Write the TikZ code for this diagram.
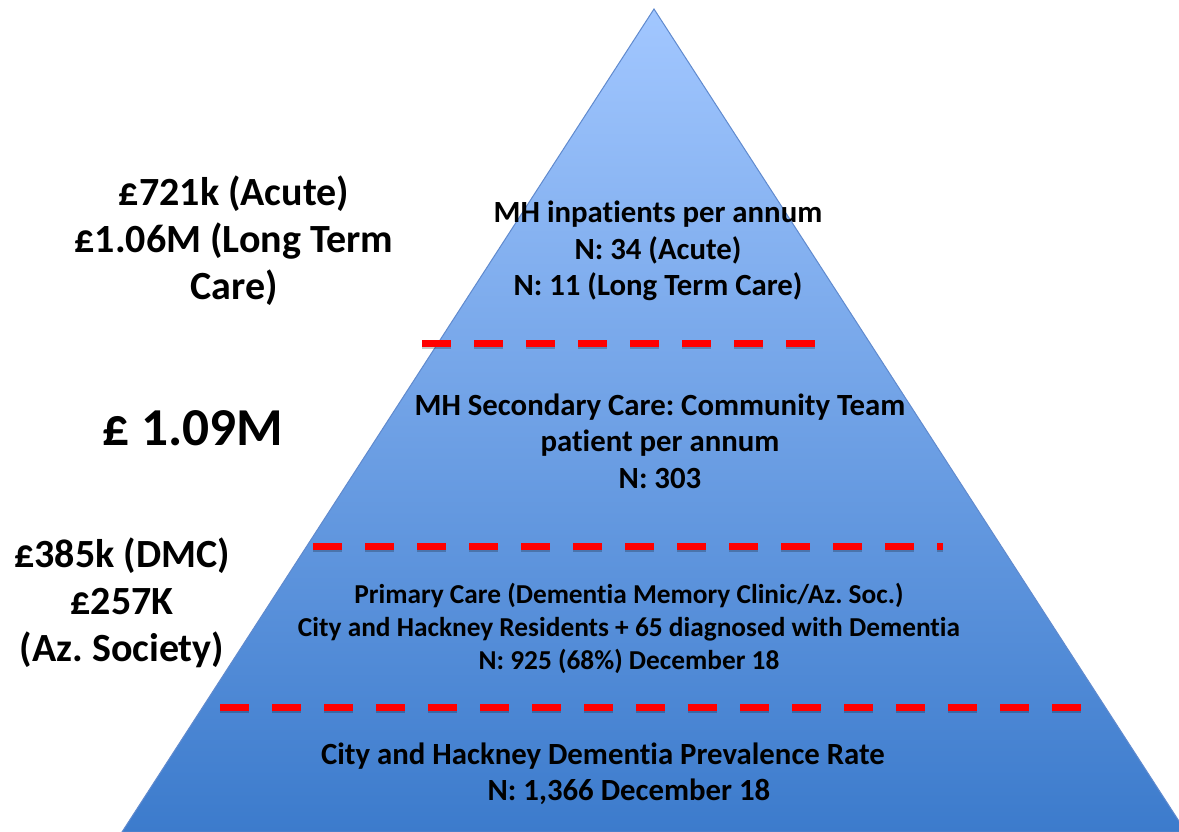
\documentclass[tikz,border=0pt]{standalone}
\usepackage{fontspec}
\setmainfont{Carlito}[Ligatures=NoCommon]
\usetikzlibrary{positioning}
\frenchspacing

\definecolor{pyrtop}{RGB}{162,199,255}
\definecolor{pyrbot}{RGB}{60,123,204}
\definecolor{pyredge}{RGB}{96,138,206}
\definecolor{cutred}{RGB}{255,0,0}

\tikzset{every picture/.style={line width=0.75pt}}
\tikzset{
  costtxt/.style={align=center, inner sep=0pt, font=\fontsize{30}{35.25}\selectfont\bfseries},
  bigcost/.style={inner sep=0pt, font=\fontsize{40}{48}\selectfont\bfseries},
  pyrtxt/.style={align=center, inner sep=0pt, font=\fontsize{23.1}{27.4}\selectfont\bfseries},
  smalltxt/.style={align=center, inner sep=0pt, font=\fontsize{20.5}{24.8}\selectfont\bfseries},
  cutline/.style={draw=cutred, line width=5.25pt, dash pattern=on 22.1pt off 16.9pt},
  cutshade/.style={draw=black, opacity=0.22, line width=5.25pt, dash pattern=on 22.1pt off 16.9pt},
}

\begin{document}
\begin{tikzpicture}[x=0.75pt,y=0.75pt,yscale=-1,xscale=1]
\useasboundingbox (0,0) rectangle (1179,832);

%Shape: Triangle [id:pyramid]
\begin{scope}
\clip (0,0) rectangle (1179,832);
\shade[top color=pyrtop, bottom color=pyrbot, draw=pyredge] (654,9) -- (1186,832) -- (122,832) -- cycle ;
\end{scope}

%Straight Lines [id:cut_inpatient]
\draw [cutshade] (422,345) -- (816,345) ;
\draw [cutline] (422,343) -- (816,343) ;
%Straight Lines [id:cut_secondary]
\draw [cutshade] (313,548) -- (943,548) ;
\draw [cutline] (313,546) -- (943,546) ;
%Straight Lines [id:cut_primary]
\draw [cutshade] (220,709) -- (1081,709) ;
\draw [cutline] (220,707) -- (1081,707) ;

% Text Node
\node [costtxt] (costInpat) at (234,241) {£721k (Acute)\\£1.06M (Long Term\\Care)};
% Text Node
\node [bigcost] (costComm) at (193,428) {£ 1.09M};
% Text Node
\node [costtxt] (costPrim) at (122,603) {£385k (DMC)\\£257K\\(Az. Society)};

% Text Node
\node [pyrtxt] (inpatients) at (658,251) {MH inpatients per annum\\N: 34 (Acute)\\N: 11 (Long Term Care)};
% Text Node
\node [pyrtxt] (secondary) at (660,441) {MH Secondary Care: Community Team\\patient per annum\\N: 303};
% Text Node
\node [smalltxt] (primary) at (629,628) {Primary Care (Dementia Memory Clinic/Az. Soc.)\\City and Hackney Residents + 65 diagnosed with Dementia\\N: 925 (68\%) December 18};
% Text Node
\node [pyrtxt] (prevalence) at (603,756) {City and Hackney Dementia Prevalence Rate};
% Text Node
\node [pyrtxt] (prevalenceN) at (629,792) {N: 1,366 December 18};

\end{tikzpicture}
\end{document}
